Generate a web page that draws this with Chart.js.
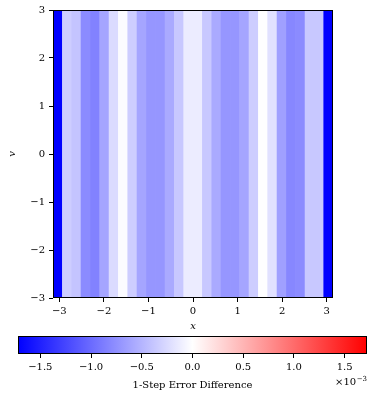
<!DOCTYPE html>
<html>
<head>
<meta charset="utf-8">
<script src="https://cdn.jsdelivr.net/npm/chart.js@4.4.1/dist/chart.umd.min.js"></script>
<style>
  html, body { margin: 0; padding: 0; background: #fff; }
  #wrap { position: relative; width: 373px; height: 394px; }
  #heat { position: absolute; left: 0; top: 0; }
  #cbar { position: absolute; left: 0; top: 330px; }
</style>
</head>
<body>
<div id="wrap">
  <canvas id="heat" width="373" height="340"></canvas>
  <canvas id="cbar" width="373" height="64"></canvas>
</div>
<script>
// x bin centres over [-pi, pi], 30 bins (values vary only along x)
const xCenters = [-3.037, -2.827, -2.618, -2.409, -2.199, -1.990, -1.780, -1.571, -1.361, -1.152,
                  -0.942, -0.733, -0.524, -0.314, -0.105, 0.105, 0.314, 0.524, 0.733, 0.942,
                  1.152, 1.361, 1.571, 1.780, 1.990, 2.199, 2.409, 2.618, 2.827, 3.037];
// 1-step error difference (x 1e-3)
const errDiff = [-1.72, -0.34, -0.40, -0.78, -0.84, -0.61, -0.24, -0.03, -0.34, -0.61,
                 -0.71, -0.71, -0.57, -0.37, -0.13, -0.13, -0.37, -0.57, -0.71, -0.71,
                 -0.61, -0.34, -0.01, -0.20, -0.64, -0.81, -0.78, -0.37, -0.37, -1.72];
const vRange = [-3, 3];
const xTicks = [-3, -2, -1, 0, 1, 2, 3];
const yTicks = [-3, -2, -1, 0, 1, 2, 3];
const cbarLimit = 1.72;
const cbarTicks = [-1.5, -1.0, -0.5, 0.0, 0.5, 1.0, 1.5];

const serif = "'DejaVu Serif', 'Liberation Serif', serif";

function bwr(v) {
  let t = (v + cbarLimit) / (2 * cbarLimit);
  t = Math.max(0, Math.min(1, t));
  let r, g, b;
  if (t < 0.5) { r = g = 2 * t; b = 1; }
  else { r = 1; g = b = 2 * (1 - t); }
  return 'rgb(' + Math.round(r * 255) + ',' + Math.round(g * 255) + ',' + Math.round(b * 255) + ')';
}

const minus = s => s.replace('-', '\u2212');

// frame around the plot area (matplotlib spines)
const framePlugin = {
  id: 'frame',
  afterDraw(chart) {
    const a = chart.chartArea, c = chart.ctx;
    c.save();
    c.strokeStyle = '#000';
    c.lineWidth = 1;
    c.strokeRect(Math.round(a.left) + 0.5, Math.round(a.top) + 0.5,
                 Math.round(a.right - a.left) - 1, Math.round(a.bottom - a.top) - 1);
    c.restore();
  }
};

const tickGrid = { display: true, offset: false, drawOnChartArea: false, drawTicks: true, tickLength: 4, color: '#000' };
const tickFont = { family: serif, size: 10 };

const heat = new Chart(document.getElementById('heat'), {
  type: 'bar',
  data: {
    datasets: [{
      data: xCenters.map(x => ({ x: x, y: vRange })),
      backgroundColor: errDiff.map(bwr),
      borderWidth: 0,
      barPercentage: 1.06,
      categoryPercentage: 1,
      clip: 0
    }]
  },
  options: {
    responsive: false,
    animation: false,
    layout: { padding: { left: 0, right: 40, top: 10, bottom: 0 } },
    plugins: { legend: { display: false }, tooltip: { enabled: false } },
    scales: {
      x: {
        type: 'linear', min: -Math.PI, max: Math.PI, offset: false,
        afterBuildTicks: s => { s.ticks = xTicks.map(v => ({ value: v })); },
        afterFit: s => { s.height = 42; },
        grid: tickGrid,
        border: { display: false },
        ticks: { color: '#000', font: tickFont, padding: 3, maxRotation: 0, autoSkip: false,
                 callback: v => minus(String(v)) },
        title: { display: true, text: 'x', color: '#000', font: { family: serif, size: 10, style: 'italic' },
                 padding: { top: 0, bottom: 8 } }
      },
      y: {
        type: 'linear', min: vRange[0], max: vRange[1],
        afterBuildTicks: s => { s.ticks = yTicks.map(v => ({ value: v })); },
        afterFit: s => { s.width = 53; },
        grid: tickGrid,
        border: { display: false },
        ticks: { color: '#000', font: tickFont, padding: 4,
                 callback: v => minus(String(v)) },
        title: { display: true, text: 'v', color: '#000', font: { family: serif, size: 10, style: 'italic' },
                 padding: { top: 6, bottom: 0 } }
      }
    }
  },
  plugins: [framePlugin]
});

// offset text of the colour bar
const offsetPlugin = {
  id: 'offsetText',
  afterDraw(chart) {
    const c = chart.ctx;
    const right = chart.chartArea.right;
    c.save();
    c.fillStyle = '#000';
    c.textBaseline = 'alphabetic';
    c.textAlign = 'right';
    c.font = '7px ' + serif;
    const sup = '\u22123';
    const supW = c.measureText(sup).width;
    c.fillText(sup, right, 51);
    c.font = '10px ' + serif;
    c.fillText('\u00d710', right - supW - 0.5, 55);
    c.restore();
  }
};

const cbar = new Chart(document.getElementById('cbar'), {
  type: 'bar',
  data: {
    labels: ['cb'],
    datasets: [{
      data: [[-cbarLimit, cbarLimit]],
      backgroundColor: (ctx) => {
        const ch = ctx.chart;
        const xs = ch.scales.x;
        if (!xs || !ch.chartArea) return 'rgba(0,0,0,0)';
        const x0 = xs.getPixelForValue(-cbarLimit), x1 = xs.getPixelForValue(cbarLimit);
        if (!Number.isFinite(x0) || !Number.isFinite(x1)) return 'rgba(0,0,0,0)';
        const g = ch.ctx.createLinearGradient(x0, 0, x1, 0);
        g.addColorStop(0, 'rgb(0,0,255)');
        g.addColorStop(0.5, 'rgb(255,255,255)');
        g.addColorStop(1, 'rgb(255,0,0)');
        return g;
      },
      borderWidth: 0,
      barPercentage: 1,
      categoryPercentage: 1,
      clip: 0
    }]
  },
  options: {
    indexAxis: 'y',
    responsive: false,
    animation: false,
    layout: { padding: { left: 18, right: 6, top: 6, bottom: 0 } },
    plugins: { legend: { display: false }, tooltip: { enabled: false } },
    scales: {
      x: {
        type: 'linear', min: -cbarLimit, max: cbarLimit,
        afterBuildTicks: s => { s.ticks = cbarTicks.map(v => ({ value: v })); },
        afterFit: s => { s.height = 40; },
        grid: tickGrid,
        border: { display: false },
        ticks: { color: '#000', font: tickFont, padding: 3, maxRotation: 0, autoSkip: false,
                 callback: v => minus(v.toFixed(1)) },
        title: { display: true, text: '1-Step Error Difference', color: '#000', font: { family: serif, size: 10 },
                 padding: { top: 0, bottom: 3 } }
      },
      y: { display: false }
    }
  },
  plugins: [framePlugin, offsetPlugin]
});
</script>
</body>
</html>
